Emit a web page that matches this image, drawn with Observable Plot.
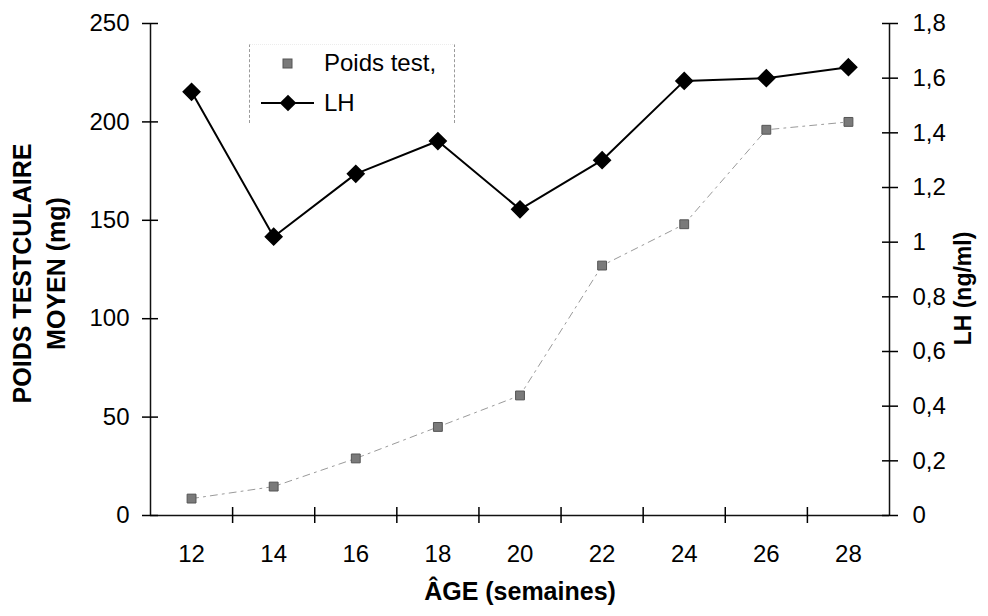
<!DOCTYPE html>
<html>
<head>
<meta charset="utf-8">
<script src="https://cdn.jsdelivr.net/npm/d3@7"></script>
<script src="https://cdn.jsdelivr.net/npm/@observablehq/plot@0.6"></script>
<style>
  html, body { margin: 0; padding: 0; background: #fff; }
  #wrap { position: relative; width: 988px; height: 616px; font-family: "Liberation Sans", Arial, sans-serif; }
  #legend { position: absolute; left: 249px; top: 44px; width: 204px; height: 78px;
    border-left: 1px dashed #9a9a9a; border-right: 1px dashed #9a9a9a; border-top: 1px dotted #ececec; }
  #legend svg { position: absolute; left: 0; top: 0; }
</style>
</head>
<body>
<div id="wrap">
  <div id="chart"></div>
  <div id="legend"></div>
</div>
<script>
// ---- data ----
const ages = [12, 14, 16, 18, 20, 22, 24, 26, 28];
const poidsValues = [8.6, 14.7, 29, 45, 61, 127, 148, 196, 200];
const lhValues = [1.55, 1.02, 1.25, 1.37, 1.12, 1.30, 1.59, 1.60, 1.64];
const xBoundaries = [13, 15, 17, 19, 21, 23, 25, 27];
const xDomain = [11, 29];
const leftTicks = [0, 50, 100, 150, 200, 250];
const rightTicks = [0, 0.2, 0.4, 0.6, 0.8, 1.0, 1.2, 1.4, 1.6, 1.8];
const rightLabels = ["0", "0,2", "0,4", "0,6", "0,8", "1", "1,2", "1,4", "1,6", "1,8"];
const seriesNames = ["Poids test,", "LH"];
const titles = { left: "POIDS TESTCULAIRE\nMOYEN (mg)", right: "LH (ng/ml)", x: "ÂGE (semaines)" };

// ---- build ----
const leftMax = 250, rightMax = 1.8;
const k = leftMax / rightMax;
const rows = ages.map((a, i) => ({ age: a, poids: poidsValues[i], lh: lhValues[i] * k }));
const rightScaled = rightTicks.map(v => v * k);

const chart = Plot.plot({
  width: 988, height: 616,
  marginLeft: 150, marginRight: 99, marginTop: 23, marginBottom: 101,
  x: { domain: xDomain },
  y: { domain: [0, leftMax] },
  style: { fontFamily: "'Liberation Sans', Arial, sans-serif", fontSize: "24px", color: "#000", background: "#fff" },
  marks: [
    Plot.ruleX([xDomain[0]], { y1: 0, y2: leftMax, stroke: "#111", strokeWidth: 1.5 }),
    Plot.ruleX([xDomain[1]], { y1: 0, y2: leftMax, stroke: "#111", strokeWidth: 1.5 }),
    Plot.ruleY([0], { x1: xDomain[0], x2: xDomain[1], stroke: "#111", strokeWidth: 1.5 }),
    Plot.axisX(xBoundaries, { tickSize: 16, dy: -8, fill: "none", label: null, strokeWidth: 1.5 }),
    Plot.axisX(ages, { tickSize: 0, tickPadding: 29, label: null, fontSize: 24 }),
    Plot.axisY(leftTicks, { anchor: "left", tickSize: 16, dx: 8, fill: "none", label: null, strokeWidth: 1.5 }),
    Plot.axisY(leftTicks, { anchor: "left", tickSize: 0, tickPadding: 21, label: null, fontSize: 24 }),
    Plot.axisY(rightScaled, { anchor: "right", tickSize: 16, dx: -8, fill: "none", label: null, strokeWidth: 1.5 }),
    Plot.axisY(rightScaled, { anchor: "right", tickSize: 0, tickPadding: 23, label: null, fontSize: 24,
      tickFormat: d => rightLabels[rightScaled.indexOf(d)] }),
    Plot.line(rows, { x: "age", y: "poids", stroke: "#9a9a9a", strokeWidth: 1, strokeDasharray: "7,5,2,5" }),
    Plot.dot(rows, { x: "age", y: "poids", symbol: "square", r: 5, fill: "#7a7a7a", stroke: "#555", strokeWidth: 1 }),
    Plot.line(rows, { x: "age", y: "lh", stroke: "#000", strokeWidth: 2 }),
    Plot.dot(rows, { x: "age", y: "lh", symbol: "diamond2", r: 7.5, fill: "#000", stroke: "#000" }),
    Plot.text([titles.left], { frameAnchor: "left", textAnchor: "middle", rotate: -90, dx: -113, dy: 4,
      fontWeight: "bold", fontSize: 25, lineHeight: 1.36 }),
    Plot.text([titles.right], { frameAnchor: "right", textAnchor: "middle", rotate: -90, dx: 74, dy: 19,
      fontWeight: "bold", fontSize: 23 }),
    Plot.text([titles.x], { frameAnchor: "bottom", dy: 84, fontWeight: "bold", fontSize: 25 })
  ]
});
document.getElementById("chart").appendChild(chart);

// ---- legend ----
const lg = d3.select("#legend").append("svg").attr("width", 204).attr("height", 78);
lg.append("rect").attr("x", 33).attr("y", 14).attr("width", 9).attr("height", 9).attr("fill", "#7a7a7a").attr("stroke", "#555");
lg.append("text").attr("x", 74).attr("y", 18).attr("dy", "0.35em").attr("font-size", 24).text(seriesNames[0]);
lg.append("line").attr("x1", 11).attr("x2", 64).attr("y1", 58).attr("y2", 58).attr("stroke", "#000").attr("stroke-width", 2);
lg.append("path").attr("d", d3.symbol(d3.symbolDiamond2, Math.PI * 7.5 * 7.5)()).attr("transform", "translate(38,58)").attr("fill", "#000");
lg.append("text").attr("x", 74).attr("y", 58).attr("dy", "0.35em").attr("font-size", 24).text(seriesNames[1]);
</script>
</body>
</html>
